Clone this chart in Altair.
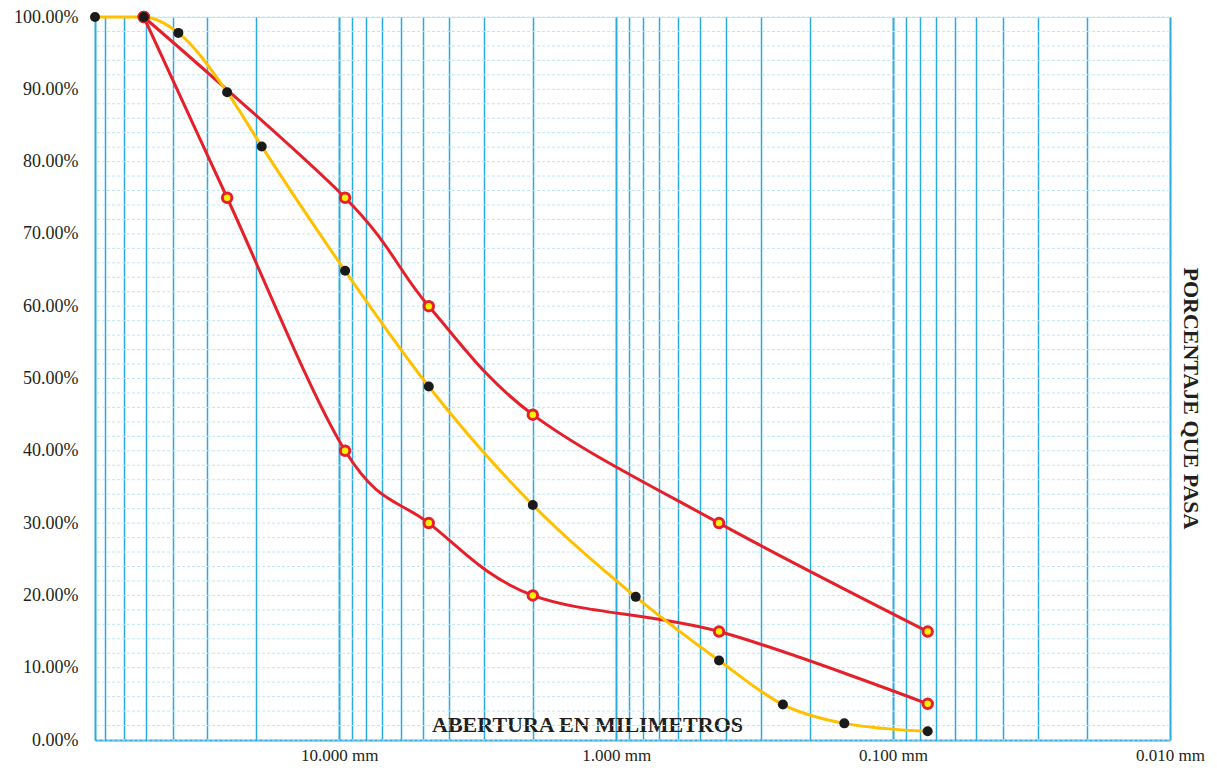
import altair as alt
import pandas as pd

# Sieve openings (mm)
sieves = [76.2, 50.8, 38.1, 25.4, 19.05, 9.525, 4.75, 2.0, 0.85, 0.425, 0.25, 0.15, 0.075]
# Sample passing (%)
muestra = [100.0, 100.0, 97.8, 89.6, 82.1, 64.9, 48.9, 32.5, 19.8, 11.0, 4.9, 2.3, 1.2]

# Specification limits
lim_sizes = [50.8, 25.4, 9.525, 4.75, 2.0, 0.425, 0.075]
lim_sup = [100.0, None, 75.0, 60.0, 45.0, 30.0, 15.0]
lim_inf = [100.0, 75.0, 40.0, 30.0, 20.0, 15.0, 5.0]

# Axis tick / grid values
x_grid = [70, 60, 50, 40, 30, 20, 10, 9, 8, 7, 6, 5, 4, 3, 2, 1,
          0.9, 0.8, 0.7, 0.6, 0.5, 0.4, 0.3, 0.2, 0.1,
          0.09, 0.08, 0.07, 0.06, 0.05, 0.04, 0.03, 0.02, 0.01]
y_ticks = [0, 10, 20, 30, 40, 50, 60, 70, 80, 90, 100]
y_minor = [0, 2, 4, 6, 8, 10, 12, 14, 16, 18, 20, 22, 24, 26, 28, 30, 32, 34, 36, 38,
           40, 42, 44, 46, 48, 50, 52, 54, 56, 58, 60, 62, 64, 66, 68, 70, 72, 74, 76,
           78, 80, 82, 84, 86, 88, 90, 92, 94, 96, 98, 100]

rows = []
for s, p in zip(sieves, muestra):
    rows.append({"size": s, "pct": p, "serie": "muestra"})
for s, p in zip(lim_sizes, lim_sup):
    if p is not None:
        rows.append({"size": s, "pct": p, "serie": "sup"})
for s, p in zip(lim_sizes, lim_inf):
    rows.append({"size": s, "pct": p, "serie": "inf"})
df = pd.DataFrame(rows)
grid_df = pd.DataFrame({"pct": y_minor})

FONT = "Liberation Serif"
BLUE = "#29ABE2"
RED = "#E5202A"
GOLD = "#FFC000"

major_test = "abs(log(datum.value)/LN10 - round(log(datum.value)/LN10)) < 0.001"

x_enc = alt.X(
    "size:Q",
    scale=alt.Scale(type="log", domain=[0.01, 76.2], reverse=True, nice=False),
    axis=alt.Axis(
        values=x_grid,
        labelExpr=f"{major_test} ? format(datum.value, '.3f') + ' mm' : ''",
        labelFont=FONT, labelFontSize=17, labelColor="#231F20",
        labelPadding=7, labelBaseline="top", labelFlush=False, labelOverlap=False,
        ticks=False, tickSize=0,
        grid=True, gridColor=BLUE,
        gridWidth={"condition": {"test": major_test, "value": 2}, "value": 1.5},
        domain=True, domainColor=BLUE, domainWidth=2,
        title="ABERTURA EN MILIMETROS",
        titleFont=FONT, titleFontSize=22, titleFontWeight="bold", titleColor="#231F20",
        titleX=492, titleY=-9, titleAlign="center", titleBaseline="alphabetic",
        titleAnchor="middle",
    ),
)

y_enc = alt.Y(
    "pct:Q",
    scale=alt.Scale(domain=[0, 100], nice=False),
    axis=alt.Axis(
        values=y_ticks,
        labelExpr="format(datum.value, '.2f') + '%'",
        labelFont=FONT, labelFontSize=18, labelColor="#231F20",
        labelPadding=17, labelOverlap=False, labelFlush=False,
        ticks=False, tickSize=0,
        grid=False,
        domain=True, domainColor=BLUE, domainWidth=2,
        title="PORCENTAJE QUE PASA",
        titleFont=FONT, titleFontSize=22, titleFontWeight="bold", titleColor="#231F20",
        titleX=1095, titleY=381, titleAngle=90, titleAlign="center",
        titleBaseline="middle",
    ),
)

hgrid = alt.Chart(grid_df).mark_rule(
    color="#BFE6F6", strokeWidth=1, strokeDash=[3, 2]).encode(y=y_enc)

base = alt.Chart(df)

sup_line = base.transform_filter("datum.serie == 'sup'").mark_line(
    color=RED, strokeWidth=3, interpolate="cardinal").encode(x=x_enc, y="pct:Q")
inf_line = base.transform_filter("datum.serie == 'inf'").mark_line(
    color=RED, strokeWidth=3, interpolate="cardinal").encode(x="size:Q", y="pct:Q")
m_line = base.transform_filter("datum.serie == 'muestra'").mark_line(
    color=GOLD, strokeWidth=3, interpolate="monotone").encode(x="size:Q", y="pct:Q")

lim_pts = base.transform_filter("datum.serie != 'muestra'").mark_point(
    shape="circle", filled=True, fill="#FFF200", stroke=RED, strokeWidth=3,
    size=90, opacity=1).encode(x="size:Q", y="pct:Q")
m_pts = base.transform_filter("datum.serie == 'muestra'").mark_point(
    shape="circle", filled=True, color="#1A1A1A", size=100, opacity=1).encode(
    x="size:Q", y="pct:Q")

chart = alt.layer(hgrid, sup_line, inf_line, m_line, lim_pts, m_pts).properties(
    width=1075, height=723,
    autosize=alt.AutoSizeParams(type="none"),
    padding={"left": 87, "top": 9, "right": 37, "bottom": 23},
).configure_view(stroke=None).configure(background="white")

chart.save("out.html", embed_options={"renderer": "svg", "actions": False})
